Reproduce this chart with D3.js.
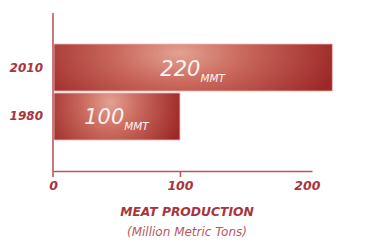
<!DOCTYPE html>
<html>
<head>
<meta charset="utf-8">
<script src="https://cdn.jsdelivr.net/npm/d3@7"></script>
<style>
  body { margin: 0; background: #fff; }
  text { font-family: "DejaVu Sans", "Open Sans", sans-serif; }
</style>
</head>
<body>
<script>
// chart data
const years = ['2010', '1980'];
const production = [220, 100];
const unitLabel = 'MMT';
const tickValues = [0, 100, 200];
const axisTitle = 'MEAT PRODUCTION';
const axisSubtitle = '(Million Metric Tons)';

const width = 374;
const height = 249;
const axisColor = '#b9585c';
const labelColor = '#a8343c';

const svg = d3.select('body').append('svg')
  .attr('width', width)
  .attr('height', height);

const x = d3.scaleLinear().domain([0, 204]).range([53, 312]);
const y = d3.scaleBand().domain(years).range([44, 140]).paddingInner(0.04);

// gradient for the bars: highlight near the top middle, dark at the ends
const defs = svg.append('defs');
const grad = defs.append('radialGradient')
  .attr('id', 'barFill')
  .attr('cx', 0.45)
  .attr('cy', 0.2)
  .attr('r', 1)
  .attr('gradientTransform', 'translate(0.45,0.2) scale(0.58,1.6) translate(-0.45,-0.2)');
grad.append('stop').attr('offset', '0%').attr('stop-color', '#e3a191');
grad.append('stop').attr('offset', '40%').attr('stop-color', '#c9685c');
grad.append('stop').attr('offset', '100%').attr('stop-color', '#9d2828');

const bars = years.map((yr, i) => ({ year: yr, value: production[i] }));

svg.selectAll('rect.bar')
  .data(bars)
  .enter().append('rect')
  .attr('class', 'bar')
  .attr('x', x(0) + 1)
  .attr('y', d => y(d.year))
  .attr('width', d => x(d.value) - x(0) - 1)
  .attr('height', y.bandwidth())
  .attr('fill', 'url(#barFill)')
  .attr('stroke', '#f2b9b4')
  .attr('stroke-width', 0.8);

// value labels with subscript unit
const valueText = svg.selectAll('text.value')
  .data(bars)
  .enter().append('text')
  .attr('class', 'value')
  .attr('x', d => (x(0) + x(d.value)) / 2)
  .attr('y', d => y(d.year) + y.bandwidth() / 2 + 8)
  .attr('text-anchor', 'middle')
  .attr('fill', '#fff4f0')
  .style('font-style', 'italic')
  .style('font-size', '21px');
valueText.append('tspan').text(d => d.value);
valueText.append('tspan')
  .attr('dy', 6)
  .style('font-size', '10.5px')
  .text(unitLabel);

// year labels
svg.selectAll('text.year')
  .data(years)
  .enter().append('text')
  .attr('class', 'year')
  .attr('x', 43)
  .attr('y', d => y(d) + y.bandwidth() / 2 + 4)
  .attr('text-anchor', 'end')
  .attr('fill', labelColor)
  .style('font-style', 'italic')
  .style('font-weight', 'bold')
  .style('font-size', '12px')
  .text(d => d);

// vertical axis line
svg.append('line')
  .attr('x1', x(0)).attr('x2', x(0))
  .attr('y1', 13).attr('y2', 177)
  .attr('stroke', axisColor)
  .attr('stroke-width', 1.6);

// bottom axis
const xAxis = svg.append('g')
  .attr('transform', 'translate(0,171)')
  .call(d3.axisBottom(x).tickValues(tickValues).tickSize(6).tickSizeOuter(0));
xAxis.select('.domain').attr('stroke', axisColor).attr('stroke-width', 1.6);
xAxis.selectAll('.tick line')
  .attr('stroke', axisColor)
  .attr('stroke-width', 1.6)
  .attr('opacity', d => d === 100 ? 1 : 0);
xAxis.selectAll('.tick text')
  .attr('y', 10)
  .attr('fill', labelColor)
  .style('font-family', '"DejaVu Sans", sans-serif')
  .style('font-style', 'italic')
  .style('font-weight', 'bold')
  .style('font-size', '12.5px');

svg.append('text')
  .attr('x', 187)
  .attr('y', 216)
  .attr('text-anchor', 'middle')
  .attr('fill', labelColor)
  .style('font-style', 'italic')
  .style('font-weight', 'bold')
  .style('font-size', '12.3px')
  .text(axisTitle);

svg.append('text')
  .attr('x', 187)
  .attr('y', 236)
  .attr('text-anchor', 'middle')
  .attr('fill', '#b9585c')
  .style('font-style', 'italic')
  .style('font-size', '12px')
  .text(axisSubtitle);
</script>
</body>
</html>
